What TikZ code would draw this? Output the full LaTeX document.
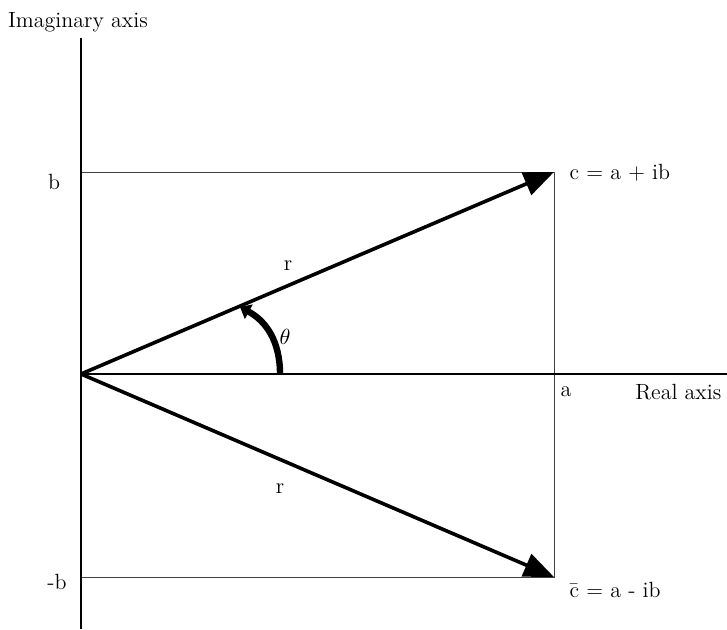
\documentclass[tikz,border=0pt]{standalone}
\usetikzlibrary{arrows.meta}
\begin{document}
\begin{tikzpicture}[x=.5pt,y=.5pt,line width=1pt,
  font=\fontsize{11}{13}\selectfont,
  vec/.style={line width=1.8pt,-{Triangle[length=15pt,width=12pt]}},
  box/.style={line width=.5pt,black!75},
  axis/.style={line width=1.3pt}]
  \useasboundingbox (0,0) rectangle (727,629);
  % origin, the two points and the corners of the box
  \coordinate (O) at (81,255);
  \coordinate (C) at (554,457);
  \coordinate (Cb) at (554,52);
  \coordinate (B) at (81,457);
  \coordinate (Bb) at (81,52);
  \coordinate (Ytop) at (81,591);
  \coordinate (Ybot) at (81,0);
  \coordinate (Xend) at (727,255);
  \coordinate (T0) at (280,255);
  \coordinate (T1) at (240,322);
  \draw[box] (B) -- (C) -- (Cb) -- (Bb);
  \draw[axis] (Ybot) -- (Ytop);
  \draw[axis] (O) -- (Xend);
  \draw[vec] (O) -- (C);
  \draw[vec] (O) -- (Cb);
  \draw[line width=3.2pt,-{Triangle[length=5pt,width=8pt]}]
    (T0) .. controls (280,288) and (266,308) .. (T1);
  \node (imag) at (78,607) {Imaginary axis};
  \node (lb) at (54,447) {b};
  \node (lmb) at (57,47) {-b};
  \node[anchor=west] (lc) at (562,456) {c = a + ib};
  \node[anchor=west] (lcb) at (562,39) {\=c = a - ib};
  \node (la) at (566,237) {a};
  \node[anchor=east] (lreal) at (729,237) {Real axis};
  \node (r1) at (288,363) {r};
  \node (r2) at (280,140) {r};
  \node (th) at (285,292) {$\theta$};
\end{tikzpicture}
\end{document}
